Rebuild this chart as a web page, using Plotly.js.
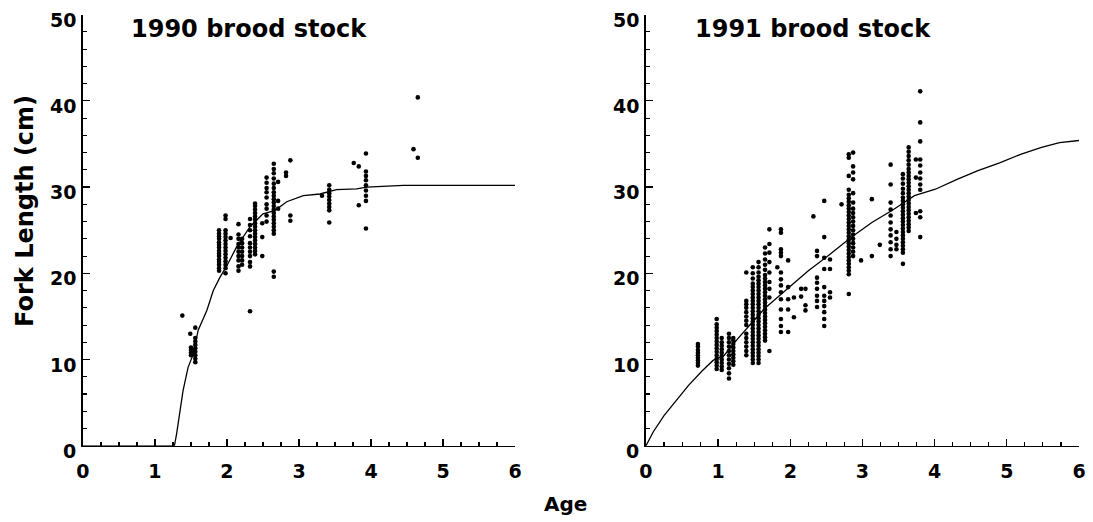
<!DOCTYPE html>
<html>
<head>
<meta charset="utf-8">
<script src="https://cdn.plot.ly/plotly-3.0.1.min.js"></script>
<style>html,body{margin:0;padding:0;background:#fff;}#chart{width:1093px;height:522px;}</style>
</head>
<body>
<div id="chart"></div>
<script>
// ---------- 1990 brood stock ----------
var curve90Age = [0, 1.27, 1.30, 1.35, 1.39, 1.46, 1.53, 1.60, 1.72, 1.81, 1.90, 2.00, 2.13, 2.32, 2.50, 2.67, 2.83, 3.06, 3.29, 3.52, 3.80, 3.94, 4.45, 6.0];
var curve90Len = [0, 0, 1.35, 4.1, 6.4, 9.1, 10.6, 13.4, 15.7, 18.0, 19.5, 20.9, 23.0, 25.4, 26.9, 27.3, 28.3, 29.0, 29.2, 29.7, 29.8, 30.0, 30.2, 30.2];

var pts90Age = [
  1.38, 1.49,
  1.50, 1.50, 1.50, 1.50,
  1.53, 1.53,
  1.56, 1.56, 1.56, 1.56, 1.56, 1.56, 1.56, 1.56, 1.56,
  1.89, 1.89, 1.89, 1.89, 1.89, 1.89, 1.89, 1.89, 1.89, 1.89, 1.89, 1.89, 1.89, 1.89, 1.89,
  1.98, 1.98, 1.98, 1.98, 1.98, 1.98, 1.98, 1.98, 1.98, 1.98, 1.98, 1.98, 1.98, 1.98, 1.98,
  2.05,
  2.16, 2.16, 2.16, 2.16, 2.16, 2.16, 2.16, 2.16, 2.16, 2.16,
  2.21, 2.21, 2.21, 2.21, 2.21, 2.21, 2.21,
  2.32, 2.32, 2.32, 2.32, 2.32, 2.32, 2.32, 2.32, 2.32, 2.32, 2.32,
  2.39, 2.39, 2.39, 2.39, 2.39, 2.39, 2.39, 2.39, 2.39, 2.39, 2.39, 2.39, 2.39, 2.39, 2.39, 2.39,
  2.49, 2.49, 2.49,
  2.55, 2.55, 2.55, 2.55, 2.55, 2.55, 2.55, 2.55, 2.55,
  2.65, 2.65, 2.65, 2.65, 2.65, 2.65, 2.65, 2.65, 2.65, 2.65, 2.65, 2.65, 2.65, 2.65, 2.65, 2.65, 2.65, 2.65, 2.65, 2.65, 2.65,
  2.71, 2.71, 2.71,
  2.82, 2.82,
  2.88, 2.88, 2.88,
  3.32,
  3.42, 3.42, 3.42, 3.42, 3.42, 3.42, 3.42, 3.42, 3.42,
  3.76,
  3.83, 3.83,
  3.93, 3.93, 3.93, 3.93, 3.93, 3.93, 3.93, 3.93, 3.93,
  4.59,
  4.65, 4.65
];
var pts90Len = [
  15.1, 13.0,
  10.5, 10.8, 11.1, 11.4,
  10.6, 11.0,
  9.7, 10.1, 10.5, 10.9, 11.3, 11.7, 12.1, 12.5, 13.7,
  20.3, 20.6, 21.0, 21.3, 21.6, 22.0, 22.3, 22.6, 23.0, 23.3, 23.6, 24.0, 24.3, 24.6, 25.0,
  20.0, 20.6, 21.0, 21.4, 21.8, 22.2, 22.6, 23.0, 23.4, 23.8, 24.2, 24.6, 25.0, 26.3, 26.7,
  24.1,
  20.3, 20.8, 21.5, 22.0, 22.5, 23.0, 23.4, 24.0, 24.5, 25.7,
  21.0, 21.5, 22.0, 22.5, 23.0, 23.5, 24.0,
  15.6, 20.8, 21.3, 22.0, 22.5, 23.0, 23.5, 24.3, 25.0, 25.6, 26.3,
  22.2, 22.6, 23.0, 23.4, 23.8, 24.2, 24.6, 25.0, 25.4, 25.8, 26.2, 26.6, 27.0, 27.4, 27.8, 28.1,
  22.0, 24.2, 25.8,
  26.0, 26.7, 27.5, 28.0, 28.8, 29.4, 29.9, 30.5, 31.1,
  19.6, 20.2, 24.6, 25.0, 25.4, 25.8, 26.2, 26.6, 27.0, 27.4, 27.8, 28.2, 28.6, 29.0, 29.4, 29.9, 30.4, 31.0, 31.6, 32.1, 32.7,
  27.5, 28.4, 30.6,
  31.3, 31.7,
  26.1, 26.7, 33.1,
  29.0,
  25.9, 27.3, 27.7, 28.1, 28.5, 28.9, 29.3, 29.7, 30.2,
  32.8,
  27.9, 32.4,
  25.2, 28.4, 29.0, 29.6, 30.2, 30.8, 31.3, 31.8, 33.9,
  34.4,
  33.4, 40.4
];

// ---------- 1991 brood stock ----------
var curve91Age = [0, 0.10, 0.25, 0.39, 0.59, 0.78, 0.93, 1.08, 1.27, 1.47, 1.66, 1.96, 2.25, 2.55, 2.84, 3.13, 3.43, 3.72, 4.01, 4.31, 4.60, 4.90, 5.19, 5.48, 5.73, 6.0];
var curve91Len = [0, 1.6, 3.5, 4.9, 7.0, 8.7, 9.9, 10.45, 12.4, 14.3, 16.05, 18.2, 20.3, 22.2, 24.15, 25.9, 27.4, 29.0, 29.75, 30.9, 31.9, 32.8, 33.8, 34.6, 35.15, 35.4];

var pts91Age = [
  0.72, 0.72, 0.72, 0.72, 0.72, 0.72, 0.72, 0.72, 0.72,
  0.98, 0.98, 0.98, 0.98, 0.98, 0.98, 0.98, 0.98, 0.98, 0.98, 0.98, 0.98, 0.98, 0.98, 0.98,
  1.05, 1.05, 1.05, 1.05, 1.05, 1.05, 1.05, 1.05, 1.05, 1.05,
  1.15, 1.15, 1.15, 1.15, 1.15, 1.15, 1.15, 1.15, 1.15, 1.15, 1.15,
  1.21, 1.21, 1.21, 1.21, 1.21, 1.21, 1.21, 1.21, 1.21,
  1.39, 1.39, 1.39, 1.39, 1.39, 1.39, 1.39, 1.39, 1.39, 1.39, 1.39, 1.39, 1.39, 1.39,
  1.48, 1.48, 1.48, 1.48, 1.48, 1.48, 1.48, 1.48, 1.48, 1.48, 1.48, 1.48, 1.48, 1.48, 1.48, 1.48, 1.48, 1.48, 1.48, 1.48, 1.48, 1.48, 1.48, 1.48, 1.48, 1.48, 1.48,
  1.56, 1.56, 1.56, 1.56, 1.56, 1.56, 1.56, 1.56, 1.56, 1.56, 1.56, 1.56, 1.56, 1.56, 1.56, 1.56, 1.56, 1.56, 1.56, 1.56, 1.56, 1.56, 1.56, 1.56, 1.56, 1.56, 1.56, 1.56, 1.56,
  1.65, 1.65, 1.65, 1.65, 1.65, 1.65, 1.65, 1.65, 1.65, 1.65, 1.65, 1.65, 1.65, 1.65, 1.65, 1.65, 1.65, 1.65, 1.65, 1.65, 1.65, 1.65, 1.65, 1.65, 1.65,
  1.71, 1.71, 1.71, 1.71, 1.71, 1.71, 1.71, 1.71, 1.71,
  1.82,
  1.87, 1.87, 1.87, 1.87, 1.87, 1.87, 1.87, 1.87, 1.87, 1.87, 1.87, 1.87, 1.87, 1.87,
  1.97, 1.97, 1.97, 1.97, 1.97,
  2.05, 2.05,
  2.15, 2.15,
  2.21, 2.21, 2.21,
  2.32,
  2.37, 2.37, 2.37, 2.37, 2.37, 2.37, 2.37, 2.37,
  2.47, 2.47, 2.47, 2.47, 2.47, 2.47, 2.47, 2.47, 2.47, 2.47, 2.47,
  2.55, 2.55, 2.55, 2.55,
  2.71,
  2.81, 2.81, 2.81, 2.81, 2.81, 2.81, 2.81, 2.81, 2.81, 2.81, 2.81, 2.81, 2.81, 2.81, 2.81, 2.81, 2.81, 2.81, 2.81, 2.81, 2.81, 2.81, 2.81, 2.81, 2.81, 2.81, 2.81, 2.81, 2.81,
  2.87, 2.87, 2.87, 2.87, 2.87, 2.87, 2.87, 2.87, 2.87, 2.87, 2.87, 2.87, 2.87, 2.87, 2.87, 2.87, 2.87, 2.87,
  2.98,
  3.13, 3.13,
  3.24,
  3.39, 3.39, 3.39, 3.39, 3.39, 3.39, 3.39, 3.39, 3.39, 3.39, 3.39,
  3.47, 3.47, 3.47, 3.47,
  3.56, 3.56, 3.56, 3.56, 3.56, 3.56, 3.56, 3.56, 3.56, 3.56, 3.56, 3.56, 3.56, 3.56, 3.56, 3.56, 3.56, 3.56, 3.56, 3.56, 3.56, 3.56, 3.56,
  3.64, 3.64, 3.64, 3.64, 3.64, 3.64, 3.64, 3.64, 3.64, 3.64, 3.64, 3.64, 3.64, 3.64, 3.64, 3.64, 3.64, 3.64, 3.64, 3.64, 3.64, 3.64, 3.64, 3.64,
  3.74, 3.74, 3.74,
  3.80, 3.80, 3.80, 3.80, 3.80, 3.80, 3.80, 3.80, 3.80, 3.80, 3.80, 3.80
];
var pts91Len = [
  9.3, 9.6, 9.9, 10.2, 10.5, 10.8, 11.1, 11.5, 11.8,
  8.9, 9.3, 9.7, 10.1, 10.5, 10.9, 11.3, 11.7, 12.1, 12.5, 12.9, 13.3, 13.7, 14.1, 14.7,
  8.8, 9.2, 9.6, 10.0, 10.4, 10.8, 11.2, 11.6, 12.0, 12.5,
  7.8, 8.4, 9.0, 9.5, 10.0, 10.5, 11.0, 11.5, 12.0, 12.5, 13.0,
  9.4, 9.8, 10.2, 10.6, 11.0, 11.4, 11.8, 12.2, 12.5,
  10.5, 11.0, 11.5, 12.0, 12.5, 13.0, 14.0, 14.5, 15.0, 15.5, 16.0, 16.4, 16.8, 20.1,
  9.6, 10.0, 10.4, 10.8, 11.2, 11.6, 12.0, 12.4, 12.8, 13.2, 13.6, 14.0, 14.4, 14.8, 15.2, 15.6, 16.0, 16.4, 16.8, 17.2, 17.6, 18.0, 18.4, 18.8, 19.4, 20.0, 20.7,
  9.6, 10.0, 10.4, 10.8, 11.2, 11.6, 12.0, 12.4, 12.8, 13.2, 13.6, 14.0, 14.4, 14.8, 15.2, 15.6, 16.0, 16.4, 16.8, 17.2, 17.6, 18.0, 18.4, 18.8, 19.2, 19.6, 20.1, 20.7, 21.3,
  12.2, 12.6, 13.0, 13.4, 13.8, 14.2, 14.6, 15.0, 15.4, 15.8, 16.2, 16.6, 17.0, 17.4, 17.8, 18.2, 18.6, 19.0, 19.4, 19.8, 20.4, 21.0, 21.6, 22.3, 23.0,
  11.0, 17.2, 18.2, 19.0, 20.1, 21.3, 22.4, 23.4, 25.1,
  20.7,
  13.2, 13.9, 14.7, 15.8, 17.0, 17.8, 18.6, 19.3, 20.1, 22.0, 22.4, 22.8, 24.7, 25.1,
  13.2, 15.8, 17.0, 18.4, 21.5,
  14.9, 17.2,
  17.3, 18.2,
  15.7, 16.3, 18.2,
  26.6,
  16.1, 16.8, 17.4, 18.2, 18.9, 19.5, 22.0, 22.6,
  13.9, 14.7, 15.5, 16.2, 16.8, 17.4, 18.4, 20.5, 21.8, 24.2, 28.4,
  17.2, 17.8, 20.5, 21.6,
  28.0,
  17.6, 19.9, 20.3, 20.7, 21.1, 21.5, 21.9, 22.3, 22.7, 23.1, 23.5, 23.9, 24.3, 24.7, 25.1, 25.5, 25.9, 26.3, 26.7, 27.1, 27.5, 27.9, 28.3, 28.7, 29.1, 29.7, 31.3, 33.8, 33.4,
  22.0, 22.5, 23.0, 23.5, 24.0, 24.5, 25.0, 25.5, 26.0, 26.5, 27.0, 27.5, 28.2, 29.3, 30.9, 31.7, 32.4, 34.0,
  21.5,
  22.0, 28.6,
  23.3,
  22.0, 22.8, 23.6, 24.4, 25.1, 25.9, 26.7, 27.4, 28.2, 30.3, 32.6,
  22.8, 23.3, 24.0, 24.8,
  21.1, 22.4, 22.8, 23.2, 23.6, 24.0, 24.4, 24.8, 25.2, 25.6, 26.0, 26.4, 26.8, 27.2, 27.6, 28.0, 28.4, 28.8, 29.3, 29.8, 30.4, 31.0, 31.5,
  24.9, 25.3, 25.7, 26.1, 26.5, 26.9, 27.3, 27.7, 28.1, 28.5, 28.9, 29.3, 29.7, 30.1, 30.5, 30.9, 31.3, 31.7, 32.1, 32.6, 33.1, 33.6, 34.1, 34.6,
  27.0, 31.1, 33.2,
  24.2, 26.5, 27.2, 29.7, 30.3, 31.0, 31.7, 32.5, 33.2, 35.3, 37.5, 41.1
];

// tick labels
var xTickVals = [0, 1, 2, 3, 4, 5, 6];
var xTickText = ['0', '1', '2', '3', '4', '5', '6'];
var yTickVals = [0, 10, 20, 30, 40, 50];
var yTickText = ['0', '10', '20', '30', '40', '50'];

var FONT = 'DejaVu Sans, Liberation Sans, Arial, sans-serif';

var traces = [
  {x: curve90Age, y: curve90Len, mode: 'lines', line: {color: '#000', width: 1.3}, xaxis: 'x', yaxis: 'y', hoverinfo: 'skip'},
  {x: pts90Age, y: pts90Len, mode: 'markers', marker: {color: '#000', size: 4.6, symbol: 'circle'}, xaxis: 'x', yaxis: 'y', cliponaxis: false},
  {x: curve91Age, y: curve91Len, mode: 'lines', line: {color: '#000', width: 1.3}, xaxis: 'x2', yaxis: 'y2', hoverinfo: 'skip'},
  {x: pts91Age, y: pts91Len, mode: 'markers', marker: {color: '#000', size: 4.6, symbol: 'circle'}, xaxis: 'x2', yaxis: 'y2', cliponaxis: false}
];

function xAxis(domain, anchor) {
  return {
    domain: domain, anchor: anchor, range: [0, 6], fixedrange: true,
    tickmode: 'array', tickvals: xTickVals, ticktext: xTickText,
    ticks: 'inside', ticklen: 7, tickwidth: 1.3, tickcolor: '#000',
    minor: {dtick: 0.25, tick0: 0, ticks: 'inside', ticklen: 4, tickwidth: 1.1, tickcolor: '#000', showgrid: false},
    showline: true, linecolor: '#000', linewidth: 1.6, showgrid: false, zeroline: false,
    tickfont: {family: FONT, size: 19, color: '#000', weight: 'bold'},
    ticklabelstandoff: 8
  };
}
function yAxis(domain, anchor) {
  return {
    domain: domain, anchor: anchor, range: [0, 50], fixedrange: true,
    tickmode: 'array', tickvals: yTickVals, ticktext: yTickText,
    ticks: 'inside', ticklen: 7, tickwidth: 1.3, tickcolor: '#000',
    minor: {dtick: 2, tick0: 0, ticks: 'inside', ticklen: 4, tickwidth: 1.1, tickcolor: '#000', showgrid: false},
    showline: true, linecolor: '#000', linewidth: 1.6, showgrid: false, zeroline: false,
    showticklabels: false
  };
}

// y tick labels drawn as annotations placed on the y axes' own scale
var annotations = [];
['y', 'y2'].forEach(function (ax, i) {
  yTickVals.forEach(function (v, k) {
    annotations.push({
      text: '<b>' + yTickText[k] + '</b>', xref: (i === 0 ? 'x' : 'x2') + ' domain', yref: ax,
      x: 0, y: v, xanchor: 'right', yanchor: 'middle', xshift: -5, yshift: -5,
      showarrow: false, font: {family: FONT, size: 19, color: '#000'}
    });
  });
});
annotations.push(
  {text: '<b>1990 brood stock</b>', xref: 'paper', yref: 'paper', x: 0.2274, y: 0.9444, xanchor: 'center', yanchor: 'middle', showarrow: false, font: {family: FONT, size: 24, color: '#000'}},
  {text: '<b>1991 brood stock</b>', xref: 'paper', yref: 'paper', x: 0.7438, y: 0.9444, xanchor: 'center', yanchor: 'middle', showarrow: false, font: {family: FONT, size: 24, color: '#000'}},
  {text: '<b>Fork Length (cm)</b>', xref: 'paper', yref: 'paper', x: 0.0229, y: 0.596, xanchor: 'center', yanchor: 'middle', textangle: -90, showarrow: false, font: {family: FONT, size: 24, color: '#000'}},
  {text: '<b>Age</b>', xref: 'paper', yref: 'paper', x: 0.517, y: 0.0345, xanchor: 'center', yanchor: 'middle', showarrow: false, font: {family: FONT, size: 20, color: '#000'}}
);

var layout = {
  width: 1093, height: 522,
  margin: {l: 0, r: 0, t: 0, b: 0},
  paper_bgcolor: '#fff', plot_bgcolor: '#fff',
  showlegend: false,
  xaxis: xAxis([0.0759, 0.4712], 'y'),
  yaxis: yAxis([0.146, 0.972], 'x'),
  xaxis2: xAxis([0.5910, 0.9872], 'y2'),
  yaxis2: yAxis([0.146, 0.972], 'x2'),
  annotations: annotations
};

Plotly.newPlot('chart', traces, layout, {staticPlot: true, displayModeBar: false});
</script>
</body>
</html>
